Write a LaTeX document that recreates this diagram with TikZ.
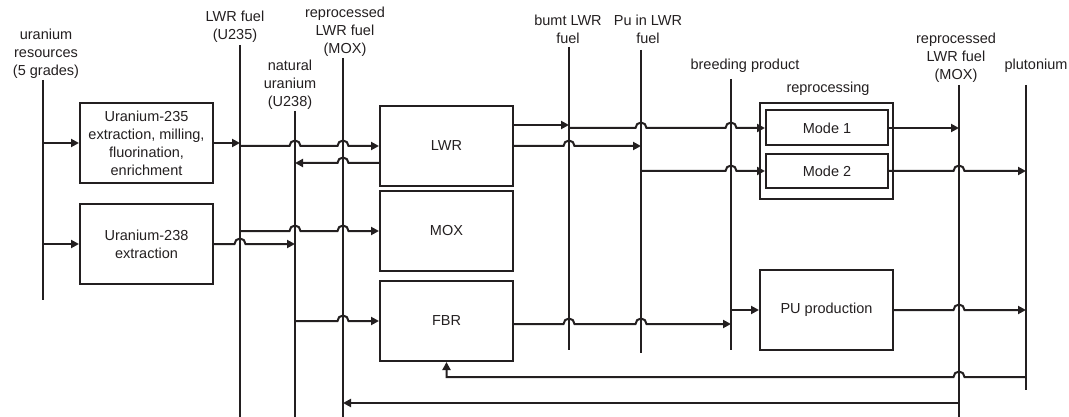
\documentclass[tikz,border=0pt]{standalone}
\usepackage{fontspec}
\setmainfont{Liberation Sans}
\usetikzlibrary{arrows.meta,calc}
\definecolor{ink}{HTML}{231F20}
\newcommand{\lblfont}{\fontsize{14.5pt}{18pt}\selectfont}
\newcommand{\hopr}[2]{-- ($(#1|-#2)+(-5.5,0)$) arc[start angle=180,end angle=0,radius=5.5pt]}
\newcommand{\hopl}[2]{-- ($(#1|-#2)+(5.5,0)$) arc[start angle=0,end angle=180,radius=5.5pt]}
\begin{document}
\begin{tikzpicture}[x=1pt,y=1pt,
  ln/.style={line width=2pt, draw=ink},
  arr/.style={ln, -{Triangle[length=8pt,width=8pt]}},
  box/.style={draw=ink, line width=2pt, rectangle, align=center, inner sep=0pt, font=\lblfont, text=ink},
  lab/.style={align=center, inner sep=0pt, font=\lblfont, text=ink}]
\useasboundingbox (0,0) rectangle (1069,-417);

% bus lines
\coordinate (At) at (43,-80);   \coordinate (Ab) at (43,-300);
\coordinate (Bt) at (240,-45);  \coordinate (Bb) at (240,-417);
\coordinate (Ct) at (295,-111); \coordinate (Cb) at (295,-417);
\coordinate (Dt) at (343,-58);  \coordinate (Db) at (343,-417);
\coordinate (Et) at (569,-47);  \coordinate (Eb) at (569,-350);
\coordinate (Ft) at (641,-50);  \coordinate (Fb) at (641,-353);
\coordinate (Gt) at (731,-79);  \coordinate (Gb) at (731,-350);
\coordinate (Ht) at (959,-85);  \coordinate (Hb) at (959,-417);
\coordinate (It) at (1026,-85); \coordinate (Ib) at (1026,-390);
\foreach \b in {A,B,C,D,E,F,G,H,I} {\draw[ln] (\b t) -- (\b b);}

% labels
\node[lab] (lres) at (46,-54) {uranium\\resources\\(5 grades)};
\node[lab] (lu235) at (235,-27) {LWR fuel\\(U235)};
\node[lab] (lmox1) at (345,-32) {reprocessed\\LWR fuel\\(MOX)};
\node[lab] (lnat) at (290,-85) {natural\\uranium\\(U238)};
\node[lab] (lburn) at (568,-29) {bumt LWR\\fuel};
\node[lab] (lpu) at (648,-29) {Pu in LWR\\fuel};
\node[lab] (lbreed) at (745,-66) {breeding product};
\node[lab] (lrepro) at (828,-89) {reprocessing};
\node[lab] (lmox2) at (956,-58) {reprocessed\\LWR fuel\\(MOX)};
\node[lab] (lplut) at (1036,-66) {plutonium};

% boxes
\node[box, minimum width=133pt, minimum height=80pt] (u235) at (146.5,-143) {Uranium-235\\extraction, milling,\\fluorination,\\enrichment};
\node[box, minimum width=133pt, minimum height=80pt] (u238) at (146.5,-244) {Uranium-238\\extraction};
\node[box, minimum width=133pt, minimum height=80pt] (lwr) at (446.5,-146) {LWR};
\node[box, minimum width=133pt, minimum height=80pt] (mox) at (446.5,-231) {MOX};
\node[box, minimum width=133pt, minimum height=80pt] (fbr) at (446.5,-321) {FBR};
\node[box, minimum width=133pt, minimum height=96pt] (repro) at (826.5,-151) {};
\node[box, minimum width=122pt, minimum height=35pt] (mode1) at (827,-128) {Mode 1};
\node[box, minimum width=122pt, minimum height=34pt] (mode2) at (827,-171) {Mode 2};
\node[box, minimum width=133pt, minimum height=80pt] (pu) at (826.5,-310) {PU production};

% connectors
\draw[arr] (At |- u235.west) -- (u235.west);
\draw[arr] (At |- u238.west) -- (u238.west);
\draw[arr] (u235.east) -- (Bt |- u235.east);
\draw[arr] (Bt |- lwr.west) \hopr{Ct}{lwr.west} \hopr{Dt}{lwr.west} -- (lwr.west);
\coordinate (lwrb) at ([yshift=-17pt]lwr.west);
\draw[arr] (lwrb) \hopl{Dt}{lwrb} -- (Ct |- lwrb);
\draw[arr] (u238.east) \hopr{Bt}{u238.east} -- (Ct |- u238.east);
\draw[arr] (Bt |- mox.west) \hopr{Ct}{mox.west} \hopr{Dt}{mox.west} -- (mox.west);
\draw[arr] (Ct |- fbr.west) \hopr{Dt}{fbr.west} -- (fbr.west);
\coordinate (lwrt) at ([yshift=21pt]lwr.east);
\draw[arr] (lwrt) -- (Et |- lwrt);
\draw[arr] (Et |- mode1.west) \hopr{Ft}{mode1.west} \hopr{Gt}{mode1.west} -- (mode1.west);
\draw[arr] (lwr.east) \hopr{Et}{lwr.east} -- (Ft |- lwr.east);
\draw[arr] (Ft |- mode2.west) \hopr{Gt}{mode2.west} -- (mode2.west);
\draw[arr] (mode1.east) -- (Ht |- mode1.east);
\draw[arr] (mode2.east) \hopr{Ht}{mode2.east} -- (It |- mode2.east);
\coordinate (fbro) at ([yshift=-3pt]fbr.east);
\draw[arr] (fbro) \hopr{Et}{fbro} \hopr{Ft}{fbro} -- (Gt |- fbro);
\draw[arr] (Gt |- pu.west) -- (pu.west);
\draw[arr] (pu.east) \hopr{Ht}{pu.east} -- (It |- pu.east);
\coordinate (ret1) at (1026,-377);
\draw[arr] (ret1) \hopl{Ht}{ret1} -- (fbr.south |- ret1) -- (fbr.south);
\coordinate (ret2) at (959,-403);
\draw[arr] (ret2) -- (Dt |- ret2);
\end{tikzpicture}
\end{document}
